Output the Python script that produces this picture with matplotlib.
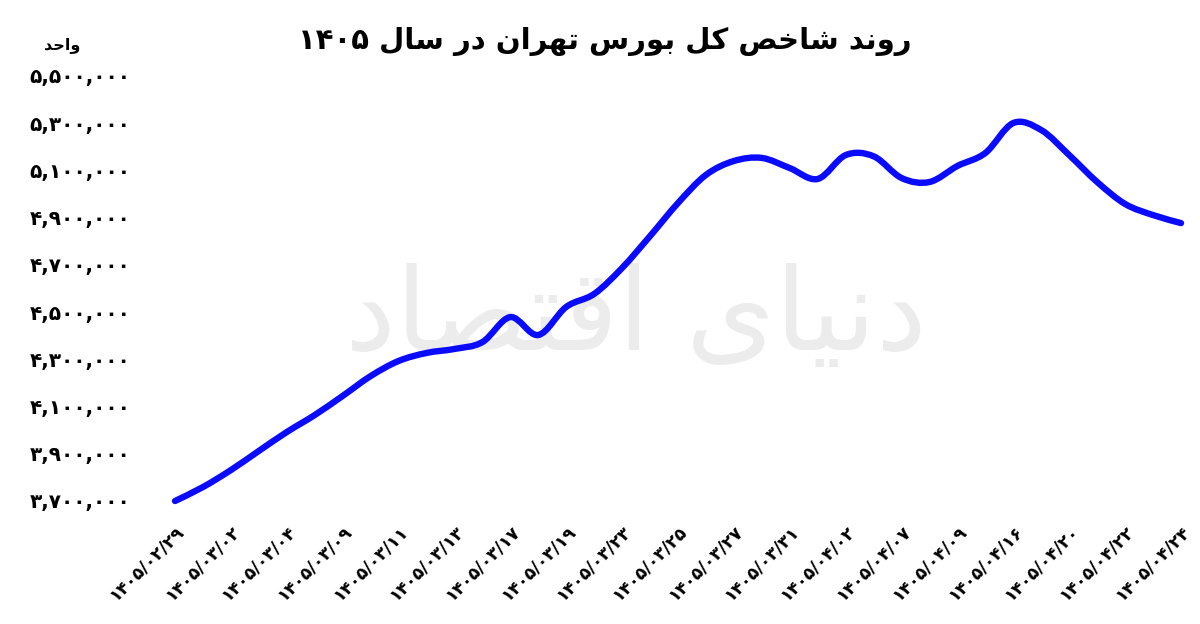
import re
import matplotlib
matplotlib.use("Agg")
import matplotlib.pyplot as plt
from matplotlib.path import Path
from matplotlib.patches import PathPatch
from matplotlib.ticker import FixedLocator, FuncFormatter

# ---------------- data ----------------
title_text = "روند شاخص کل بورس تهران در سال ۱۴۰۵"
unit_text = "واحد"
watermark_text = "دنیای اقتصاد"

tick_dates = ["1405/02/29", "1405/03/02", "1405/03/04", "1405/03/09", "1405/03/11",
              "1405/03/13", "1405/03/17", "1405/03/19", "1405/03/23", "1405/03/25",
              "1405/03/27", "1405/03/31", "1405/04/02", "1405/04/07", "1405/04/09",
              "1405/04/16", "1405/04/20", "1405/04/22", "1405/04/24"]

index_values = [3700000, 3759000, 3831000, 3912000, 3992000, 4064000, 4145000,
                4229000, 4293000, 4327000, 4344000, 4373000, 4479000, 4403000,
                4522000, 4577000, 4687000, 4822000, 4962000, 5081000, 5140000,
                5153000, 5110000, 5064000, 5165000, 5160000, 5068000, 5051000,
                5119000, 5174000, 5301000, 5271000, 5165000, 5051000, 4958000,
                4911000, 4877000]

y_ticks = [3700000, 3900000, 4100000, 4300000, 4500000, 4700000, 4900000,
           5100000, 5300000, 5500000]

# ---------------- helpers for Persian text ----------------
FA_DIGITS = str.maketrans("0123456789", "۰۱۲۳۴۵۶۷۸۹")

AR_FORMS = {
    '\u0627': ('\uFE8D', '\uFE8E', None, None),
    '\u0628': ('\uFE8F', '\uFE90', '\uFE91', '\uFE92'),
    '\u062A': ('\uFE95', '\uFE96', '\uFE97', '\uFE98'),
    '\u062D': ('\uFEA1', '\uFEA2', '\uFEA3', '\uFEA4'),
    '\u062E': ('\uFEA5', '\uFEA6', '\uFEA7', '\uFEA8'),
    '\u062F': ('\uFEA9', '\uFEAA', None, None),
    '\u0631': ('\uFEAD', '\uFEAE', None, None),
    '\u0633': ('\uFEB1', '\uFEB2', '\uFEB3', '\uFEB4'),
    '\u0634': ('\uFEB5', '\uFEB6', '\uFEB7', '\uFEB8'),
    '\u0635': ('\uFEB9', '\uFEBA', '\uFEBB', '\uFEBC'),
    '\u0642': ('\uFED5', '\uFED6', '\uFED7', '\uFED8'),
    '\u0644': ('\uFEDD', '\uFEDE', '\uFEDF', '\uFEE0'),
    '\u0646': ('\uFEE5', '\uFEE6', '\uFEE7', '\uFEE8'),
    '\u0647': ('\uFEE9', '\uFEEA', '\uFEEB', '\uFEEC'),
    '\u0648': ('\uFEED', '\uFEEE', None, None),
    '\u06A9': ('\uFB8E', '\uFB8F', '\uFB90', '\uFB91'),
    '\u06CC': ('\uFBFC', '\uFBFD', '\uFBFE', '\uFBFF'),
}


def shape(text):
    text = text.replace('\u0643', '\u06A9').replace('\u064A', '\u06CC')
    out = []
    n = len(text)
    for i, c in enumerate(text):
        f = AR_FORMS.get(c)
        if f is None:
            out.append(c)
            continue
        prev = text[i - 1] if i > 0 else None
        nxt = text[i + 1] if i < n - 1 else None
        jp = prev in AR_FORMS and AR_FORMS[prev][2] is not None
        jn = nxt in AR_FORMS and f[2] is not None
        if jp and jn:
            out.append(f[3])
        elif jp:
            out.append(f[1])
        elif jn:
            out.append(f[2])
        else:
            out.append(f[0])
    return ''.join(out)


def rtl(text):
    text = shape(text)
    runs = re.findall(r'[0-9\u06F0-\u06F9/,.]+|[^0-9\u06F0-\u06F9/,.]+', text)
    return ''.join(r if re.match(r'[0-9\u06F0-\u06F9]', r) else r[::-1]
                   for r in reversed(runs))


# ---------------- figure ----------------
plt.rcParams['font.family'] = ['DejaVu Sans']
fig = plt.figure(figsize=(12, 6.24), dpi=100)
fig.patch.set_facecolor('white')

ax = fig.add_axes([175 / 1200, 123 / 624, (1181 - 175) / 1200, 425 / 624])
ax.set_facecolor('none')

x = list(range(len(index_values)))

# smooth line (Catmull-Rom converted to cubic Bezier in data coordinates)
verts = [(x[0], index_values[0])]
codes = [Path.MOVETO]
n = len(x)
for i in range(n - 1):
    p0 = (x[max(i - 1, 0)], index_values[max(i - 1, 0)])
    p1 = (x[i], index_values[i])
    p2 = (x[i + 1], index_values[i + 1])
    p3 = (x[min(i + 2, n - 1)], index_values[min(i + 2, n - 1)])
    c1 = (p1[0] + (p2[0] - p0[0]) / 6, p1[1] + (p2[1] - p0[1]) / 6)
    c2 = (p2[0] - (p3[0] - p1[0]) / 6, p2[1] - (p3[1] - p1[1]) / 6)
    verts += [c1, c2, p2]
    codes += [Path.CURVE4] * 3
patch = PathPatch(Path(verts, codes), fill=False, edgecolor='#0a0aff',
                  linewidth=4.6, capstyle='round', joinstyle='round',
                  clip_on=False, zorder=3)
ax.add_patch(patch)

ax.set_xlim(0, n - 1)
ax.set_ylim(3700000, 5500000)

# y axis
ax.yaxis.set_major_locator(FixedLocator(y_ticks))
ax.yaxis.set_major_formatter(FuncFormatter(lambda v, p: f"{v:,.0f}".translate(FA_DIGITS)))
ax.tick_params(axis='y', length=0, pad=32, labelsize=14.5)
for lab in ax.get_yticklabels():
    lab.set_fontweight('bold')

# x axis
tick_pos = list(range(0, n, 2))
ax.set_xticks(tick_pos)
ax.set_xticklabels([d.translate(FA_DIGITS) for d in tick_dates], rotation=45,
                   ha='right', va='top', rotation_mode='anchor',
                   fontsize=12.5, fontweight='bold')
ax.tick_params(axis='x', length=0, pad=15)

for s in ax.spines.values():
    s.set_visible(False)
ax.grid(False)

# watermark (behind the line)
ax.text(0.53, 0.49, rtl(watermark_text), transform=fig.transFigure,
        fontsize=82, color='#ececec', ha='center', va='center', zorder=1)

# title and unit
fig.text(605 / 1200, 1 - 41 / 624, rtl(title_text), fontsize=21, fontweight='bold',
         ha='center', va='center')
fig.text(62 / 1200, 1 - 45 / 624, rtl(unit_text), fontsize=11.5, fontweight='bold',
         ha='center', va='center')

fig.savefig('out.png', dpi=100, facecolor='white')
